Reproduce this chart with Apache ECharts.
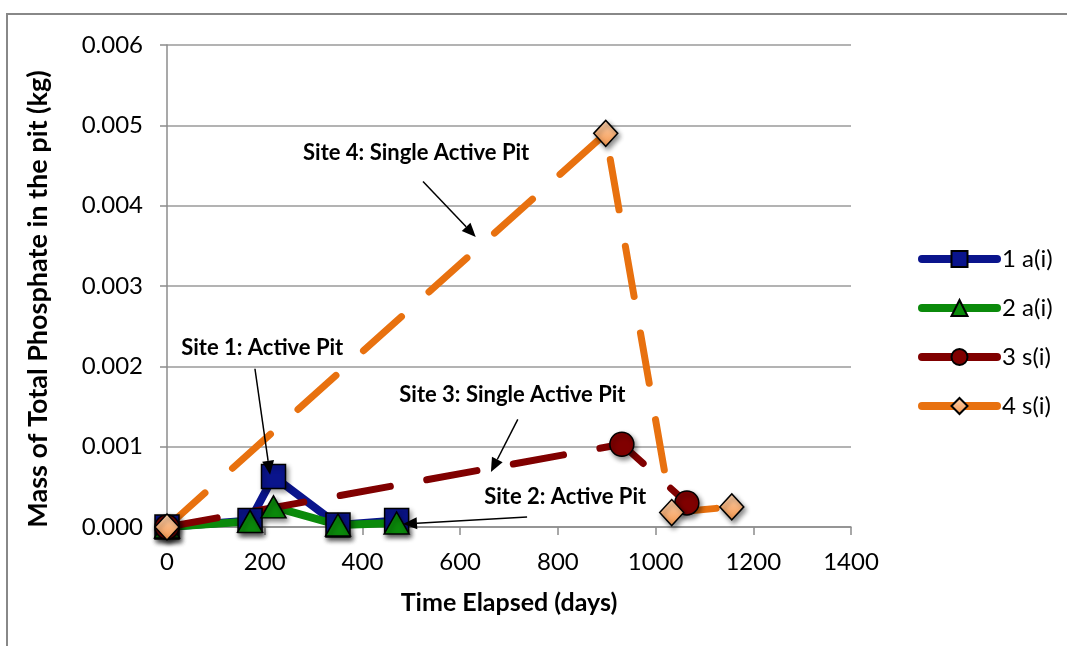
<!DOCTYPE html>
<html>
<head>
<meta charset="utf-8">
<script src="https://cdn.jsdelivr.net/npm/echarts@6/dist/echarts.min.js"></script>
<style>
  html, body { margin: 0; padding: 0; background: #fff; }
  #chart { width: 1067px; height: 646px; }
</style>
</head>
<body>
<div id="chart"></div>
<script>
// Axis ticks
const xTicks = [0, 200, 400, 600, 800, 1000, 1200, 1400];
const yTicks = [0, 0.001, 0.002, 0.003, 0.004, 0.005, 0.006];

// Series names (legend)
const seriesNames = ['1 a(i)', '2 a(i)', '3 s(i)', '4 s(i)'];

// Site 1 – active pit
const site1Days = [0, 170, 218, 350, 470];
const site1Mass = [0, 0.00008, 0.00063, 0.000025, 0.00008];
// Site 2 – active pit
const site2Days = [0, 170, 218, 350, 470];
const site2Mass = [0, 0.00007, 0.00025, 0.000025, 0.00005];
// Site 3 – single active pit
const site3Days = [0, 931, 1064];
const site3Mass = [0, 0.00103, 0.0003];
// Site 4 – single active pit
const site4Days = [0, 898, 1033, 1156];
const site4Mass = [0, 0.0049, 0.00018, 0.00025];

// Callout labels: text, label centre, arrow start and arrow tip (data units)
const calloutTexts = ['Site 4: Single Active Pit', 'Site 1: Active Pit', 'Site 3: Single Active Pit', 'Site 2: Active Pit'];
const calloutLabelAt = [[510, 0.00466], [195, 0.00223], [707, 0.00164], [815, 0.00037]];
const calloutFrom = [[524, 0.0043], [180, 0.00197], [718, 0.00134], [737, 0.000124]];
const calloutTo = [[632, 0.00361], [211, 0.00065], [663, 0.000685], [483, 0.000037]];

const FONT = 'Lato';
const pairs = (xs, ys) => xs.map((x, i) => [x, ys[i]]);
const shadow = { shadowBlur: 5, shadowOffsetX: 2, shadowOffsetY: 3, shadowColor: 'rgba(0,0,0,0.45)' };

const chart = echarts.init(document.getElementById('chart'), null, { renderer: 'canvas' });

const diamondFill = new echarts.graphic.LinearGradient(0, 0, 0, 1, [
  { offset: 0, color: '#fdd3b0' },
  { offset: 1, color: '#f5964c' }
]);

const option = {
  animation: false,
  backgroundColor: '#fff',
  grid: { left: 167, right: 216, top: 45, bottom: 119 },
  xAxis: {
    type: 'value',
    min: xTicks[0], max: xTicks[xTicks.length - 1], interval: xTicks[1] - xTicks[0],
    name: 'Time Elapsed (days)', nameLocation: 'middle', nameGap: 63,
    nameTextStyle: { fontFamily: FONT, fontWeight: 'bold', fontSize: 25, color: '#000' },
    axisLine: { show: true, lineStyle: { color: '#8c8c8c', width: 1.5 } },
    axisTick: { show: true, length: 8, lineStyle: { color: '#8c8c8c', width: 1.5 } },
    axisLabel: { fontFamily: FONT, fontSize: 24, color: '#000', margin: 23,
      formatter: v => String(v) },
    splitLine: { show: false }
  },
  yAxis: {
    type: 'value',
    min: yTicks[0], max: yTicks[yTicks.length - 1], interval: yTicks[1] - yTicks[0],
    name: 'Mass of Total Phosphate in the pit (kg)', nameLocation: 'middle', nameGap: 115,
    nameTextStyle: { fontFamily: FONT, fontWeight: 'bold', fontSize: 27, color: '#000',
      padding: [0, 26, 0, 0] },
    axisLine: { show: true, lineStyle: { color: '#8c8c8c', width: 1.5 } },
    axisTick: { show: true, length: 7, lineStyle: { color: '#8c8c8c', width: 1.5 } },
    axisLabel: { fontFamily: FONT, fontSize: 24, color: '#000', margin: 24,
      formatter: v => v.toFixed(3) },
    splitLine: { show: true, lineStyle: { color: '#9a9a9a', width: 1.5 } }
  },
  legend: {
    orient: 'vertical', left: 913, top: 242,
    itemWidth: 75, itemHeight: 20, itemGap: 25,
    textStyle: { fontFamily: FONT, fontSize: 24, color: '#000' },
    data: seriesNames.map(n => ({ name: n, lineStyle: { type: 'solid', width: 8, cap: 'round' } }))
  },
  series: [
    {
      name: seriesNames[0], type: 'line', data: pairs(site1Days, site1Mass),
      symbol: 'rect', symbolSize: 24,
      lineStyle: { color: '#0a148c', width: 8, join: 'round' },
      itemStyle: Object.assign({ color: '#0a148c', borderColor: '#000', borderWidth: 1.5 }, shadow),
      emphasis: { disabled: true }
    },
    {
      name: seriesNames[1], type: 'line', data: pairs(site2Days, site2Mass),
      symbol: 'triangle', symbolSize: [25, 22],
      lineStyle: { color: '#0b8a0b', width: 8, join: 'round' },
      itemStyle: Object.assign({ color: '#0b8a0b', borderColor: '#000', borderWidth: 1.5 }, shadow),
      emphasis: { disabled: true }
    },
    {
      name: seriesNames[2], type: 'line', data: pairs(site3Days, site3Mass),
      symbol: 'circle', symbolSize: 24,
      lineStyle: { color: '#800000', width: 7, type: [51, 37], cap: 'round' },
      itemStyle: Object.assign({ color: '#800000', borderColor: '#000', borderWidth: 1.5 }, shadow),
      emphasis: { disabled: true }
    },
    {
      name: seriesNames[3], type: 'line', data: pairs(site4Days, site4Mass),
      symbol: 'diamond', symbolSize: [24, 26],
      lineStyle: { color: '#e8710f', width: 7, type: [51, 37], cap: 'round' },
      itemStyle: Object.assign({ color: diamondFill, borderColor: '#000', borderWidth: 1.5 }, shadow),
      emphasis: { disabled: true }
    }
  ]
};

chart.setOption(option);

// Outer frame plus callout labels with arrows, placed from data coordinates
const toPx = p => chart.convertToPixel({ gridIndex: 0 }, p);
const graphics = [{
  type: 'rect', silent: true, z: 0,
  shape: { x: 7, y: 14, width: 1200, height: 800 },
  style: { fill: 'none', stroke: '#888', lineWidth: 2 }
}];
calloutTexts.forEach((t, i) => {
  const c = toPx(calloutLabelAt[i]);
  const a = toPx(calloutFrom[i]);
  const b = toPx(calloutTo[i]);
  const dx = b[0] - a[0], dy = b[1] - a[1];
  const len = Math.hypot(dx, dy);
  const ux = dx / len, uy = dy / len;
  const headLen = 14, headHalf = 6;
  const bx = b[0] - ux * headLen, by = b[1] - uy * headLen;
  graphics.push({
    type: 'text', z: 100, silent: true,
    style: { text: t, x: c[0], y: c[1], align: 'center', verticalAlign: 'middle',
      font: 'bold 22px ' + FONT, fill: '#000' }
  });
  graphics.push({
    type: 'line', z: 100, silent: true,
    shape: { x1: a[0], y1: a[1], x2: bx, y2: by },
    style: { stroke: '#000', lineWidth: 1.5 }
  });
  graphics.push({
    type: 'polygon', z: 100, silent: true,
    shape: { points: [[b[0], b[1]], [bx - uy * headHalf, by + ux * headHalf], [bx + uy * headHalf, by - ux * headHalf]] },
    style: { fill: '#000' }
  });
});
chart.setOption({ graphic: graphics });
</script>
</body>
</html>
